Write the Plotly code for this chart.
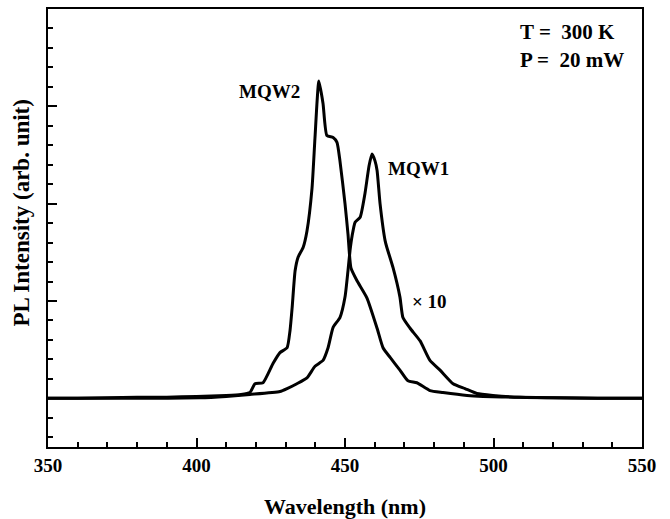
import plotly.graph_objects as go

# MQW2 (shorter-wavelength, stronger peak)
mqw2_wl = [350, 360, 370, 380, 390, 400, 405, 410, 415, 418.0, 419.7, 422.4, 425.8, 428.1, 430.5,
           431.5, 432.2, 433.2, 434.2, 435.9, 437.2, 438.9, 439.9, 441.2, 442.6, 443.9, 446.0,
           447.3, 448.3, 450.0, 451.0, 452.0, 454.0, 457.4, 460.8, 462.8, 465.2, 468.5, 471.2,
           474.2, 478.6, 483.0, 491.1, 496.5, 508.9, 520, 535, 550]
mqw2_int = [0.0, 0.0, 0.005, 0.01, 0.012, 0.02, 0.025, 0.03, 0.04, 0.06, 0.15, 0.16, 0.36, 0.47, 0.52,
            0.70, 0.93, 1.31, 1.45, 1.55, 1.72, 2.16, 2.68, 3.26, 3.03, 2.70, 2.68,
            2.63, 2.44, 2.00, 1.69, 1.34, 1.21, 1.03, 0.72, 0.52, 0.42, 0.29, 0.18,
            0.16, 0.08, 0.06, 0.03, 0.02, 0.01, 0.005, 0.0, 0.0]

# MQW1 (longer-wavelength peak, x10)
mqw1_wl = [350, 380, 401.2, 410, 418.0, 428.1, 430.5, 433.8, 437.2, 439.9, 442.6, 444.3, 446.0,
           448.3, 450.0, 451.0, 451.7, 452.4, 453.4, 455.1, 456.7, 458.1, 459.1, 460.1, 460.8,
           461.8, 463.5, 464.1, 466.2, 468.5, 469.5, 471.9, 475.3, 478.6, 482.0, 486.4, 490.4,
           494.4, 499.8, 508.9, 520, 535, 550]
mqw1_int = [0.0, 0.0, 0.005, 0.02, 0.04, 0.07, 0.10, 0.15, 0.21, 0.33, 0.39, 0.52, 0.73,
            0.83, 1.04, 1.31, 1.52, 1.67, 1.81, 1.86, 2.10, 2.39, 2.51, 2.44, 2.34,
            2.00, 1.62, 1.55, 1.34, 1.04, 0.83, 0.72, 0.59, 0.39, 0.29, 0.15, 0.10,
            0.05, 0.03, 0.01, 0.005, 0.0, 0.0]

x_ticks = [350, 400, 450, 500, 550]

FONT = "Liberation Serif, Times New Roman, serif"

fig = go.Figure()
for xs, ys in [(mqw2_wl, mqw2_int), (mqw1_wl, mqw1_int)]:
    fig.add_trace(go.Scatter(x=xs, y=ys, mode="lines",
                             line=dict(color="black", width=3, shape="spline", smoothing=0.5),
                             showlegend=False))

ann_font = dict(family=FONT, size=19, color="black", weight="bold")
cond_font = dict(family=FONT, size=21, color="black", weight="bold")
fig.add_annotation(x=424.7, y=3.15, text="MQW2", showarrow=False, font=ann_font)
fig.add_annotation(x=474.6, y=2.36, text="MQW1", showarrow=False, font=ann_font)
fig.add_annotation(x=478.6, y=0.99, text="× 10", showarrow=False, font=ann_font)
fig.add_annotation(x=508.3, y=3.76, text="T =  300 K", showarrow=False, xanchor="left", font=cond_font)
fig.add_annotation(x=508.3, y=3.48, text="P =  20 mW", showarrow=False, xanchor="left", font=cond_font)
# y-axis title as rotated text
fig.add_annotation(xref="paper", yref="paper", x=-0.044, y=0.535, text="PL Intensity (arb. unit)",
                   textangle=-90, showarrow=False, xanchor="center", yanchor="middle",
                   font=dict(family=FONT, size=23, color="black", weight="bold"))

fig.update_layout(
    width=670, height=519,
    margin=dict(l=48, r=28, t=9, b=72),
    paper_bgcolor="white", plot_bgcolor="white",
    font=dict(family=FONT, color="black"),
)
fig.update_xaxes(
    range=[350, 550], tickvals=x_ticks, ticktext=[str(v) for v in x_ticks],
    ticks="inside", ticklen=9, tickwidth=2, tickcolor="black",
    minor=dict(dtick=10, tick0=350, ticks="inside", ticklen=5, tickwidth=1.5, tickcolor="black"),
    showline=True, linecolor="black", linewidth=2, mirror=True,
    showgrid=False, zeroline=False, automargin=False,
    tickfont=dict(family=FONT, size=19, color="black", weight="bold"),
    title=dict(text="Wavelength (nm)", font=dict(family=FONT, size=22, color="black", weight="bold"),
               standoff=24),
)
fig.update_yaxes(
    range=[-0.5, 4.0], tick0=0, dtick=1,
    ticks="inside", ticklen=9, tickwidth=2, tickcolor="black",
    minor=dict(dtick=0.2, tick0=0, ticks="inside", ticklen=5, tickwidth=1.5, tickcolor="black"),
    showticklabels=False, automargin=False,
    showline=True, linecolor="black", linewidth=2, mirror=True,
    showgrid=False, zeroline=False,
)

fig.write_html("out.html", config={"displayModeBar": False},
               post_script="document.body.style.margin='0';")
